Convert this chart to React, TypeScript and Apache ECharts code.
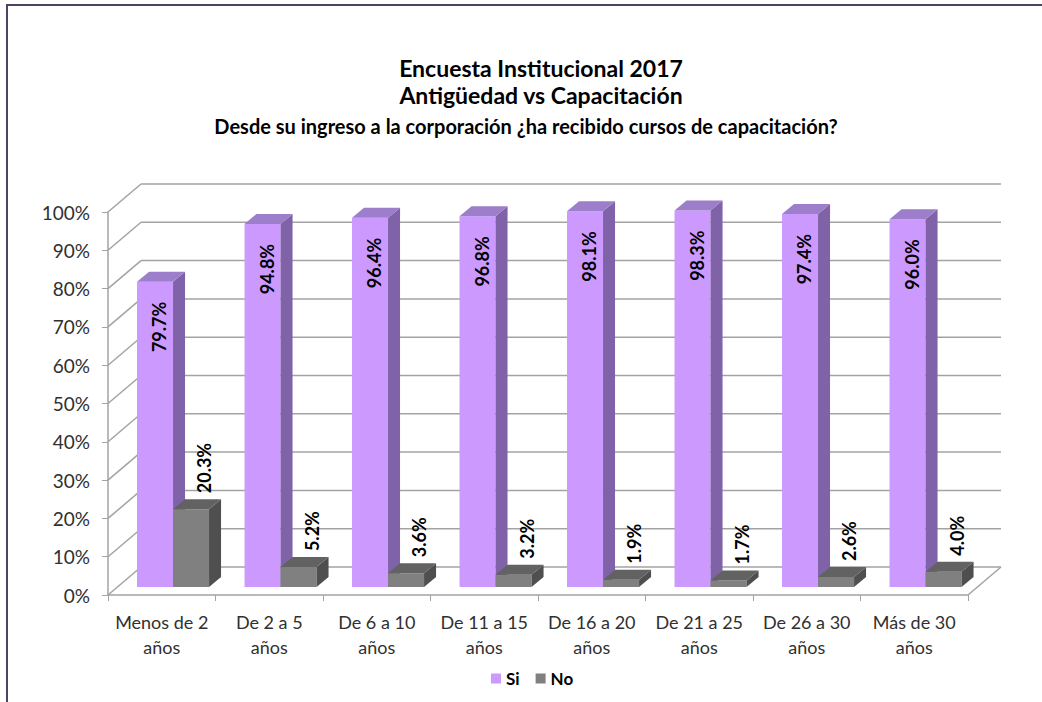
import React, { useEffect, useRef } from "react";
import * as echarts from "echarts";

const titleLines = [
  "Encuesta Institucional 2017",
  "Antigüedad vs Capacitación",
  "Desde su ingreso a la corporación ¿ha recibido cursos de capacitación?",
];
const categories = [
  "Menos de 2\naños",
  "De 2 a 5\naños",
  "De 6 a 10\naños",
  "De 11 a 15\naños",
  "De 16 a 20\naños",
  "De 21 a 25\naños",
  "De 26 a 30\naños",
  "Más de 30\naños",
];
const seriesNames = ["Si", "No"];
const siValues = [79.7, 94.8, 96.4, 96.8, 98.1, 98.3, 97.4, 96.0];
const noValues = [20.3, 5.2, 3.6, 3.2, 1.9, 1.7, 2.6, 4.0];
const yTickValues = [0, 10, 20, 30, 40, 50, 60, 70, 80, 90, 100];

const DEPTH_X = 33;
const DEPTH_Y = 28;
const FONT = "Lato";

function barRenderer(slot: number, front: string, side: string, top: string) {
  return (params: any, api: any) => {
    const i = api.value(0);
    const v = api.value(1);
    const base = api.coord([i, 0]);
    const tp = api.coord([i, v]);
    const band = api.size([1, 0])[0];
    const w = band * 0.335;
    const left = base[0] - band * 0.23 + slot * w;
    const yb = base[1] - 8;
    const yt = tp[1] - 8;
    const d = 12;
    const h = 10;
    const label = v.toFixed(1) + "%";
    const labelEl =
      slot === 0
        ? {
            type: "text",
            x: left + w / 2 + 4,
            y: yt + 20,
            rotation: Math.PI / 2,
            style: {
              text: label,
              fill: "#000",
              fontFamily: FONT,
              fontWeight: "bold",
              fontSize: 18,
              align: "right",
              verticalAlign: "middle",
            },
          }
        : {
            type: "text",
            x: left + w / 2 + 13,
            y: yt - h - 6,
            rotation: Math.PI / 2,
            style: {
              text: label,
              fill: "#000",
              fontFamily: FONT,
              fontWeight: "bold",
              fontSize: 18,
              align: "left",
              verticalAlign: "middle",
            },
          };
    return {
      type: "group",
      children: [
        {
          type: "rect",
          shape: { x: left, y: yt, width: w, height: yb - yt },
          style: { fill: front },
        },
        {
          type: "polygon",
          shape: {
            points: [
              [left + w, yt],
              [left + w + d, yt - h],
              [left + w + d, yb - h],
              [left + w, yb],
            ],
          },
          style: { fill: side },
        },
        {
          type: "polygon",
          shape: {
            points: [
              [left, yt],
              [left + d, yt - h],
              [left + w + d, yt - h],
              [left + w, yt],
            ],
          },
          style: { fill: top },
        },
        labelEl,
      ],
    };
  };
}

function wallRenderer(params: any, api: any) {
  const v = api.value(1);
  const cs = params.coordSys;
  const x0 = cs.x;
  const x1 = cs.x + cs.width;
  const y = api.coord([0, v])[1];
  const lineStyle = { stroke: "#a3a3a3", lineWidth: 1.5 };
  const children: any[] = [
    {
      type: "line",
      shape: { x1: x0, y1: y, x2: x0 + DEPTH_X, y2: y - DEPTH_Y },
      style: lineStyle,
    },
    {
      type: "line",
      shape: { x1: x0 + DEPTH_X, y1: y - DEPTH_Y, x2: x1 + DEPTH_X, y2: y - DEPTH_Y },
      style: lineStyle,
    },
  ];
  if (v === 0) {
    children.push({
      type: "line",
      shape: { x1: x1, y1: y, x2: x1 + DEPTH_X, y2: y - DEPTH_Y },
      style: lineStyle,
    });
  }
  return { type: "group", children };
}

export default function App() {
  const ref = useRef<HTMLDivElement>(null);
  useEffect(() => {
    if (!ref.current) return;
    const chart = echarts.init(ref.current, null, { renderer: "svg" });
    const titleStyle = (size: number) => ({
      fontFamily: FONT,
      fontWeight: "bold" as const,
      fontSize: size,
      color: "#000",
    });
    chart.setOption({
      animation: false,
      backgroundColor: "#fff",
      title: [
        { text: titleLines[0], left: 536, top: 51, textAlign: "center", textStyle: titleStyle(23) },
        { text: titleLines[1], left: 536, top: 78, textAlign: "center", textStyle: titleStyle(23) },
        { text: titleLines[2], left: 521, top: 111, textAlign: "center", textStyle: titleStyle(20) },
      ],
      legend: {
        data: seriesNames,
        left: 486,
        top: 665,
        icon: "rect",
        itemWidth: 10,
        itemHeight: 10,
        itemGap: 16,
        textStyle: { fontFamily: FONT, fontWeight: "bold", fontSize: 17, color: "#000" },
      },
      graphic: [
        {
          type: "polyline",
          shape: { points: [[7, 702], [7, 5], [1042, 5]] },
          style: { stroke: "#4d4263", lineWidth: 2, fill: "none" },
        },
      ],
      grid: { left: 108, right: 74, top: 212, bottom: 107, containLabel: false },
      xAxis: {
        type: "category",
        data: categories,
        axisLine: { show: true, lineStyle: { color: "#a3a3a3", width: 1.5 } },
        axisTick: { show: true, alignWithLabel: false, length: 6, lineStyle: { color: "#a3a3a3" } },
        axisLabel: {
          interval: 0,
          margin: 14,
          fontFamily: FONT,
          fontSize: 18,
          lineHeight: 25,
          color: "#303030",
        },
        splitLine: { show: false },
      },
      yAxis: {
        type: "value",
        min: 0,
        max: 100,
        interval: 10,
        axisLine: { show: true, lineStyle: { color: "#a3a3a3", width: 1.5 } },
        axisTick: { show: true, length: 6, lineStyle: { color: "#a3a3a3" } },
        axisLabel: {
          formatter: "{value}%",
          margin: 18,
          fontFamily: FONT,
          fontSize: 19,
          color: "#303030",
        },
        splitLine: { show: false },
      },
      series: [
        {
          type: "custom",
          name: "walls",
          renderItem: wallRenderer,
          data: yTickValues.map((v) => [0, v]),
          encode: { x: 0, y: 1 },
          silent: true,
          z: 1,
        },
        {
          type: "custom",
          name: seriesNames[0],
          renderItem: barRenderer(0, "#cc99ff", "#7f62a8", "#9d7ecb"),
          data: siValues.map((v, i) => [i, v]),
          encode: { x: 0, y: 1 },
          itemStyle: { color: "#cc99ff" },
          z: 2,
        },
        {
          type: "custom",
          name: seriesNames[1],
          renderItem: barRenderer(1, "#808080", "#4f4f4f", "#626262"),
          data: noValues.map((v, i) => [i, v]),
          encode: { x: 0, y: 1 },
          itemStyle: { color: "#808080" },
          z: 3,
        },
      ],
    });
    return () => chart.dispose();
  }, []);
  return (
    <div
      ref={ref}
      style={{ position: "fixed", left: 0, top: 0, width: 1042, height: 702 }}
    />
  );
}
